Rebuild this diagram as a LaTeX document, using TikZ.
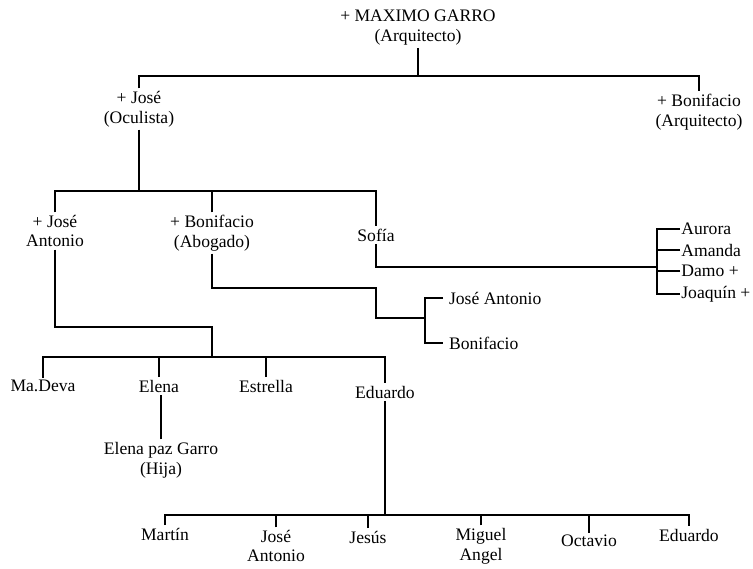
\documentclass[tikz,border=0pt]{standalone}
\usepackage{fontspec}
\setmainfont{Liberation Serif}
\begin{document}
\begin{tikzpicture}[
    x=0.03cm, y=-0.03cm,
    font=\fontsize{15}{17}\selectfont,
    % entries of the family tree
    person/.style={align=center, inner sep=2pt},
    leaf/.style={anchor=west, inner sep=1pt},
    link/.style={line width=1.3pt, draw=black}
  ]

  % page frame, in pixels of the original sheet (753 x 569)
  \useasboundingbox (0,0) rectangle (753,569);

  % ---------------------------------------------------------
  % GENERATION 1
  % ---------------------------------------------------------
  \node[person] (maximo) at (418,28) {+ MAXIMO GARRO\\(Arquitecto)};

  \node[person] (jose) at (139,109) {+ José\\(Oculista)};
  \node[person] (bonarq) at (699,112) {+ Bonifacio\\(Arquitecto)};

  \coordinate (bar1) at (418,76);
  \draw[link] (maximo.south) -- (bar1);
  \draw[link] (jose.north) |- (bar1) -| (bonarq.north);

  % ---------------------------------------------------------
  % GENERATION 2
  % ---------------------------------------------------------
  \node[person] (joseant) at (55,231) {+ José\\Antonio};
  \node[person] (bonabo) at (212,233) {+ Bonifacio\\(Abogado)};
  \node[person] (sofia) at (376,235) {Sofía};

  \coordinate (bar2) at (139,191);
  \draw[link] (jose.south) -- (bar2);
  \draw[link] (joseant.north) |- (bar2) -| (sofia.north);
  \draw[link] (bonabo.north) -- (bonabo.north |- bar2);

  % Sofia's children, bracket on the right
  \node[leaf] (aurora) at (680,229) {Aurora};
  \node[leaf] (amanda) at (680,250) {Amanda};
  \node[leaf] (damo) at (680,271) {Damo +};
  \node[leaf] (joaquin) at (680,294) {Joaquín +};

  \coordinate (brsofia) at (657,267);
  \draw[link] (sofia.south) |- (brsofia);
  \draw[link] (aurora.west) -| (brsofia) |- (joaquin.west);
  \draw[link] (amanda.west) -- (amanda.west -| brsofia);
  \draw[link] (damo.west) -- (damo.west -| brsofia);

  % Bonifacio (Abogado) children
  \node[leaf, inner xsep=5pt] (bja) at (443,298) {José Antonio};
  \node[leaf, inner xsep=5pt] (bbon) at (443,343) {Bonifacio};

  \coordinate (stepbon) at (376,288);
  \coordinate (brbon) at (425,318);
  \draw[link] (bonabo.south) |- (stepbon) |- (brbon);
  \draw[link] (bja.west) -| (brbon) |- (bbon.west);

  % ---------------------------------------------------------
  % GENERATION 3 (children of Jose Antonio)
  % ---------------------------------------------------------
  \node[person] (madeva) at (43,386) {Ma.Deva};
  \node[person] (elena) at (159,386) {Elena};
  \node[person] (estrella) at (266,386) {Estrella};
  \node[person] (eduardo) at (385,392) {Eduardo};

  \coordinate (stepja) at (212,327);
  \coordinate (bar3) at (212,357);
  \draw[link] (joseant.south) |- (stepja) -- (bar3);
  \draw[link] (madeva.north) |- (bar3) -| (eduardo.north);
  \draw[link] (elena.north) -- (elena.north |- bar3);
  \draw[link] (estrella.north) -- (estrella.north |- bar3);

  % Elena's daughter
  \node[person] (elenapaz) at (161,460) {Elena paz Garro\\(Hija)};
  \draw[link] (elenapaz.north) -- (elenapaz.north |- elena.south);

  % ---------------------------------------------------------
  % GENERATION 4 (children of Eduardo)
  % ---------------------------------------------------------
  \node[person] (martin) at (165,534) {Martín};
  \node[person] (joseant2) at (276,546) {José\\Antonio};
  \node[person] (jesus) at (368,537) {Jesús};
  \node[person] (miguel) at (481,546) {Miguel\\Angel};
  \node[person] (octavio) at (589,541) {Octavio};
  \node[person] (eduardo2) at (689,535) {Eduardo};

  \coordinate (bar4) at (385,515);
  \draw[link] (eduardo.south) -- (bar4);
  \draw[link] (martin.north) |- (bar4) -| (eduardo2.north);
  \draw[link] (joseant2.north) -- (joseant2.north |- bar4);
  \draw[link] (jesus.north) -- (jesus.north |- bar4);
  \draw[link] (miguel.north) -- (miguel.north |- bar4);
  \draw[link] (octavio.north) -- (octavio.north |- bar4);

\end{tikzpicture}
\end{document}
